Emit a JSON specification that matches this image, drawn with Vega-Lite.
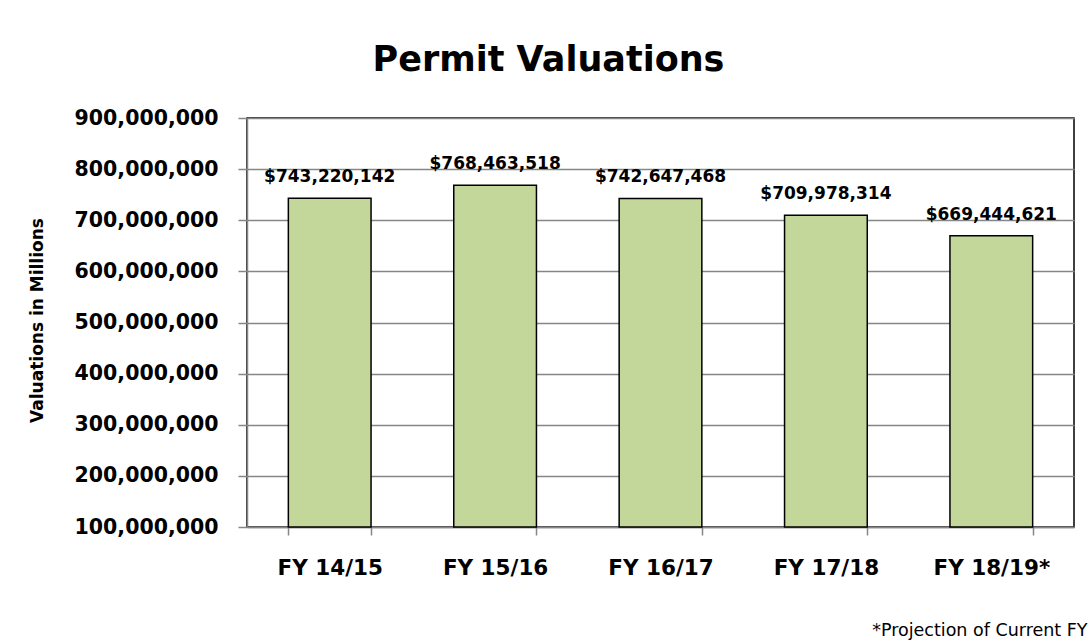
{
  "$schema": "https://vega.github.io/schema/vega-lite/v6.json",
  "width": 827,
  "height": 409,
  "autosize": {"type": "none"},
  "padding": {"left": 247, "top": 118, "right": 17, "bottom": 115},
  "background": "white",
  "title": {
    "text": "Permit Valuations",
    "font": "DejaVu Sans",
    "fontSize": 35,
    "fontWeight": "bold",
    "color": "#000000",
    "anchor": "middle",
    "frame": "group",
    "dx": -112,
    "offset": 30
  },
  "data": {
    "values": [
      {"year": "FY 14/15", "value": 743220142},
      {"year": "FY 15/16", "value": 768463518},
      {"year": "FY 16/17", "value": 742647468},
      {"year": "FY 17/18", "value": 709978314},
      {"year": "FY 18/19*", "value": 669444621}
    ]
  },
  "encoding": {
    "x": {
      "field": "year",
      "type": "nominal",
      "sort": null,
      "scale": {"paddingInner": 0.5, "paddingOuter": 0.25},
      "axis": {
        "title": "*Projection of Current FY",
        "titleFont": "DejaVu Sans",
        "titleFontSize": 17.5,
        "titleFontWeight": "normal",
        "titleColor": "#000000",
        "titleAlign": "right",
        "titleBaseline": "middle",
        "titleX": 840,
        "titleY": 103,
        "labelAngle": 0,
        "labelFont": "DejaVu Sans",
        "labelFontSize": 21.5,
        "labelFontWeight": "bold",
        "labelColor": "#000000",
        "labelPadding": 22,
        "tickBand": "extent",
        "tickSize": 8,
        "tickColor": "#868686",
        "tickWidth": 1.5,
        "domainColor": "#868686",
        "domainWidth": 1.5,
        "grid": false
      }
    },
    "y": {
      "field": "value",
      "type": "quantitative",
      "scale": {"domain": [100000000, 900000000], "zero": false, "clamp": true},
      "axis": {
        "title": "Valuations in Millions",
        "titleFont": "DejaVu Sans",
        "titleFontSize": 17,
        "titleFontWeight": "bold",
        "titleColor": "#000000",
        "titleX": -210,
        "titleY": 202,
        "titleAngle": -90,
        "titleAlign": "center",
        "titleBaseline": "middle",
        "values": [100000000, 200000000, 300000000, 400000000, 500000000, 600000000, 700000000, 800000000, 900000000],
        "format": ",d",
        "labelFont": "DejaVu Sans",
        "labelFontSize": 20.5,
        "labelFontWeight": "bold",
        "labelColor": "#000000",
        "labelPadding": 20,
        "tickSize": 9,
        "tickColor": "#868686",
        "tickWidth": 1.5,
        "domainColor": "#868686",
        "domainWidth": 1.5,
        "grid": true,
        "gridColor": "#868686",
        "gridWidth": 1.5
      }
    }
  },
  "layer": [
    {
      "mark": {"type": "bar", "color": "#c4d79b", "stroke": "#000000", "strokeWidth": 1.5}
    },
    {
      "mark": {
        "type": "text",
        "font": "DejaVu Sans",
        "fontSize": 17,
        "fontWeight": "bold",
        "color": "#000000",
        "baseline": "alphabetic",
        "dy": -16
      },
      "encoding": {
        "text": {"field": "value", "type": "quantitative", "format": "$,.0f"}
      }
    }
  ],
  "config": {
    "view": {"stroke": "#000000", "strokeWidth": 1.5}
  }
}
